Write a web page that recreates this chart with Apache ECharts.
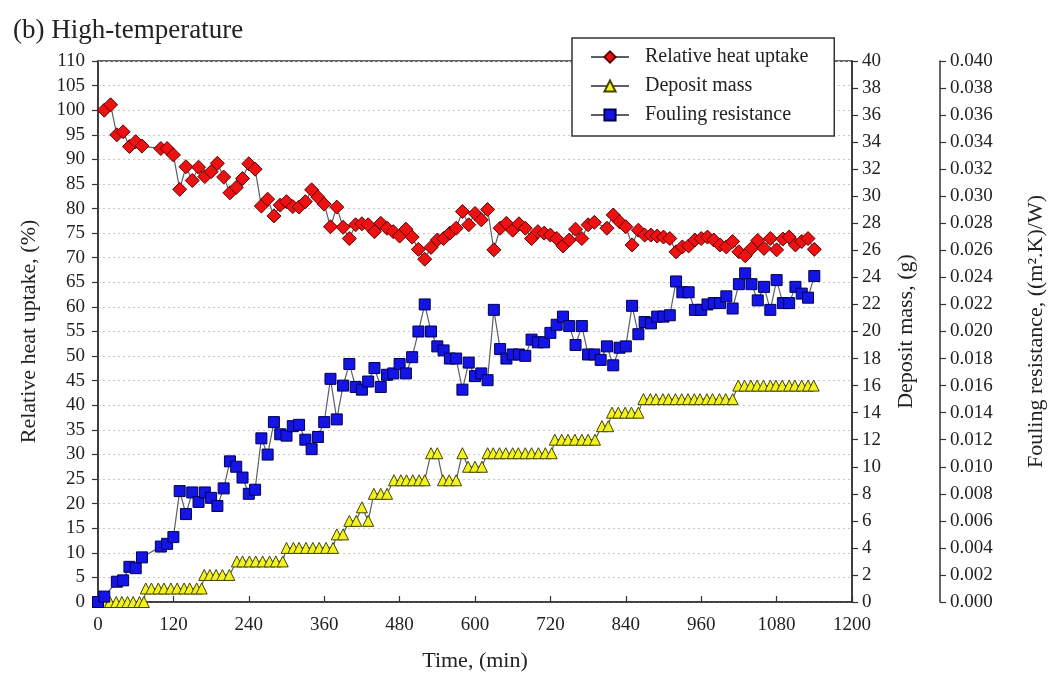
<!DOCTYPE html>
<html>
<head>
<meta charset="utf-8">
<title>(b) High-temperature</title>
<script src="https://cdn.jsdelivr.net/npm/echarts@6/dist/echarts.min.js"></script>
<style>
  html, body { margin: 0; padding: 0; background: #ffffff; }
  #chart { width: 1049px; height: 674px; }
</style>
</head>
<body>
<div id="chart"></div>
<script>
// Relative heat uptake (%) against time (min)
const heatTime = [10, 20, 30, 40, 50, 60, 70, 100, 110, 120, 130, 140, 150, 160, 170, 180, 190, 200, 210, 220,
  230, 240, 250, 260, 270, 280, 290, 300, 310, 320, 330, 340, 350, 360, 370, 380, 390, 400, 410, 420,
  430, 440, 450, 460, 470, 480, 490, 500, 510, 520, 530, 540, 550, 560, 570, 580, 590, 600, 610, 620,
  630, 640, 650, 660, 670, 680, 690, 700, 710, 720, 730, 740, 750, 760, 770, 780, 790, 810, 820, 830,
  840, 850, 860, 870, 880, 890, 900, 910, 920, 930, 940, 950, 960, 970, 980, 990, 1000, 1010, 1020, 1030,
  1040, 1050, 1060, 1070, 1080, 1090, 1100, 1110, 1120, 1130, 1140];
const heatUptake = [100.0, 101.1, 95.0, 95.6, 92.6, 93.6, 92.7, 92.2, 92.2, 90.9, 83.9, 88.5, 85.7, 88.4, 86.5, 87.5, 89.2, 86.4, 83.2, 84.3,
  86.1, 89.1, 88.0, 80.5, 81.9, 78.5, 80.7, 81.4, 80.4, 80.3, 81.4, 83.8, 82.3, 80.9, 76.3, 80.3, 76.2, 73.9, 76.7, 76.9,
  76.7, 75.3, 77.0, 76.0, 75.3, 74.4, 75.8, 74.2, 71.7, 69.7, 72.1, 73.6, 73.9, 75.0, 76.0, 79.4, 76.7, 79.0, 77.7, 79.8,
  71.6, 76.0, 77.0, 75.6, 76.9, 76.0, 73.9, 75.3, 75.0, 74.6, 73.9, 72.4, 73.6, 75.8, 73.9, 76.7, 77.2, 76.0, 78.7, 77.3,
  76.3, 72.6, 75.6, 74.6, 74.6, 74.4, 74.2, 73.9, 71.2, 72.2, 72.4, 73.6, 73.9, 74.2, 73.6, 72.6, 72.2, 73.3, 71.2, 70.4,
  71.9, 73.5, 71.9, 73.9, 71.6, 73.8, 74.2, 72.6, 73.3, 73.9, 71.7];

// Deposit mass (g) against time (min)
const massTime = [0, 10, 19, 29, 38, 47, 56, 66, 73,
  76, 85, 96, 105, 116, 126, 137, 146, 157, 165,
  169, 178, 188, 198, 209,
  221, 230, 241, 251, 262, 273, 283, 294,
  300, 311, 320, 331, 342, 352, 363, 374,
  380, 390, 400, 411, 420, 430, 439, 450, 460,
  471, 482, 491, 501, 511, 520, 530, 540, 549, 559, 570, 580, 589, 600, 611,
  620, 629, 639, 649, 660, 669, 680, 690, 701, 712, 722,
  727, 738, 748, 759, 770, 780, 791, 802, 812,
  818, 828, 839, 849, 860,
  868, 879, 888, 899, 908, 919, 929, 939, 949, 958, 969, 978, 989, 999, 1010,
  1019, 1029, 1039, 1049, 1059, 1070, 1079, 1089, 1100, 1109, 1120, 1130, 1139];
const depositMass = [0, 0, 0, 0, 0, 0, 0, 0, 0,
  1, 1, 1, 1, 1, 1, 1, 1, 1, 1,
  2, 2, 2, 2, 2,
  3, 3, 3, 3, 3, 3, 3, 3,
  4, 4, 4, 4, 4, 4, 4, 4,
  5, 5, 6, 6, 7, 6, 8, 8, 8,
  9, 9, 9, 9, 9, 9, 11, 11, 9, 9, 9, 11, 10, 10, 10,
  11, 11, 11, 11, 11, 11, 11, 11, 11, 11, 11,
  12, 12, 12, 12, 12, 12, 12, 13, 13,
  14, 14, 14, 14, 14,
  15, 15, 15, 15, 15, 15, 15, 15, 15, 15, 15, 15, 15, 15, 15,
  16, 16, 16, 16, 16, 16, 16, 16, 16, 16, 16, 16, 16];

// Fouling resistance ((m2.K)/W) against time (min)
const foulTime = [0, 10, 30, 40, 50, 60, 70, 100, 110, 120, 130, 140, 150, 160, 170, 180, 190, 200, 210, 220,
  230, 240, 250, 260, 270, 280, 290, 300, 310, 320, 330, 340, 350, 360, 370, 380, 390, 400, 410, 420,
  430, 440, 450, 460, 470, 480, 490, 500, 510, 520, 530, 540, 550, 560, 570, 580, 590, 600, 610, 620,
  630, 640, 650, 660, 670, 680, 690, 700, 710, 720, 730, 740, 750, 760, 770, 780, 790, 800, 810, 820,
  830, 840, 850, 860, 870, 880, 890, 900, 910, 920, 930, 940, 950, 960, 970, 980, 990, 1000, 1010, 1020,
  1030, 1040, 1050, 1060, 1070, 1080, 1090, 1100, 1110, 1120, 1130, 1140];
const foulingResistance = [0.0000, 0.0004, 0.0015, 0.0016, 0.0026, 0.0025, 0.0033, 0.0041, 0.0043, 0.0048, 0.0082, 0.0065, 0.0081, 0.0074, 0.0081, 0.0077, 0.0071, 0.0084, 0.0104, 0.0100,
  0.0092, 0.0080, 0.0083, 0.0121, 0.0109, 0.0133, 0.0124, 0.0123, 0.0130, 0.0131, 0.0120, 0.0113, 0.0122, 0.0133, 0.0165, 0.0135, 0.0160, 0.0176, 0.0159, 0.0157,
  0.0163, 0.0173, 0.0159, 0.0168, 0.0169, 0.0176, 0.0169, 0.0181, 0.0200, 0.0220, 0.0200, 0.0189, 0.0186, 0.0180, 0.0180, 0.0157, 0.0177, 0.0167, 0.0169, 0.0164,
  0.0216, 0.0187, 0.0180, 0.0183, 0.0183, 0.0182, 0.0194, 0.0192, 0.0192, 0.0199, 0.0205, 0.0211, 0.0204, 0.0190, 0.0204, 0.0183, 0.0183, 0.0179, 0.0189, 0.0175,
  0.0188, 0.0189, 0.0219, 0.0198, 0.0207, 0.0206, 0.0211, 0.0211, 0.0212, 0.0237, 0.0229, 0.0229, 0.0216, 0.0216, 0.0220, 0.0221, 0.0221, 0.0226, 0.0217, 0.0235,
  0.0243, 0.0235, 0.0223, 0.0233, 0.0216, 0.0238, 0.0221, 0.0221, 0.0233, 0.0228, 0.0225, 0.0241];

const seriesNames = ['Relative heat uptake', 'Deposit mass', 'Fouling resistance'];
const axisNames = ['Time, (min)', 'Relative heat uptake, (%)', 'Deposit mass, (g)', 'Fouling resistance, ((m\u00B2.K)/W)'];
const titleText = '(b) High-temperature';

const pairs = (xs, ys) => xs.map((x, i) => [x, ys[i]]);

const serif = 'Liberation Serif, Times New Roman, serif';
const ink = '#222';
const axisInk = '#333';
const tickFont = 19;
const nameFont = 22;

const chart = echarts.init(document.getElementById('chart'), null, { renderer: 'canvas' });

const baseValueAxis = {
  type: 'value',
  axisLine: { show: true, onZero: false, lineStyle: { color: axisInk, width: 1.5 } },
  axisTick: { show: true, inside: false, length: 6, lineStyle: { color: axisInk, width: 1.2 } },
  axisLabel: { color: ink, fontFamily: serif, fontSize: tickFont },
  nameTextStyle: { color: ink, fontFamily: serif, fontSize: nameFont },
  splitLine: { show: false }
};

chart.setOption({
  backgroundColor: '#ffffff',
  animation: false,
  title: {
    text: titleText,
    left: 8,
    top: 12,
    textStyle: { color: ink, fontFamily: serif, fontSize: 27, fontWeight: 'normal' }
  },
  grid: {
    left: 98, right: 197, top: 61, bottom: 72,
    containLabel: false,
    outerBoundsMode: 'none',
    show: true, borderColor: axisInk, borderWidth: 1.5, backgroundColor: 'transparent'
  },
  legend: {
    data: seriesNames,
    orient: 'vertical',
    left: 572,
    top: 38,
    padding: [9, 26, 11, 18],
    itemGap: 9,
    itemWidth: 38,
    itemHeight: 14,
    backgroundColor: '#ffffff',
    borderColor: axisInk,
    borderWidth: 1.5,
    borderRadius: 0,
    textStyle: { color: ink, fontFamily: serif, fontSize: 20, padding: [0, 0, 0, 11] }
  },
  xAxis: Object.assign({}, baseValueAxis, {
    min: 0, max: 1200, interval: 120,
    name: axisNames[0],
    nameLocation: 'middle',
    nameGap: 48,
    axisTick: { show: true, inside: true, length: 6, lineStyle: { color: axisInk, width: 1.2 } },
    axisLabel: { color: ink, fontFamily: serif, fontSize: tickFont, margin: 14,
      formatter: v => String(v) }
  }),
  yAxis: [
    Object.assign({}, baseValueAxis, {
      position: 'left',
      min: 0, max: 110, interval: 5,
      name: axisNames[1],
      nameLocation: 'middle',
      nameGap: 58,
      nameRotate: 90,
      axisLabel: { color: ink, fontFamily: serif, fontSize: tickFont, margin: 13 },
      splitLine: { show: true, lineStyle: { color: '#c8c8c8', type: [2, 3], width: 1.2 } }
    }),
    Object.assign({}, baseValueAxis, {
      position: 'right',
      min: 0, max: 40, interval: 2,
      name: axisNames[2],
      nameLocation: 'middle',
      nameGap: 43,
      nameRotate: 90,
      axisLabel: { color: ink, fontFamily: serif, fontSize: tickFont, margin: 10 }
    }),
    Object.assign({}, baseValueAxis, {
      position: 'right',
      offset: 88,
      min: 0, max: 0.040, interval: 0.002,
      name: axisNames[3],
      nameLocation: 'middle',
      nameGap: 85,
      nameRotate: 90,
      axisLabel: { color: ink, fontFamily: serif, fontSize: tickFont, margin: 10,
        formatter: v => v.toFixed(3) }
    })
  ],
  series: [
    {
      name: seriesNames[0],
      type: 'line',
      yAxisIndex: 0,
      data: pairs(heatTime, heatUptake),
      symbol: 'diamond',
      symbolSize: 14,
      lineStyle: { color: '#5a6068', width: 1.2 },
      itemStyle: { color: '#ee1111', borderColor: '#5a0000', borderWidth: 1 },
      z: 3
    },
    {
      name: seriesNames[1],
      type: 'line',
      yAxisIndex: 1,
      data: pairs(massTime, depositMass),
      symbol: 'triangle',
      symbolSize: [11, 11],
      lineStyle: { color: '#5a6068', width: 1.2 },
      itemStyle: { color: '#f2f21e', borderColor: '#444400', borderWidth: 1 },
      z: 4
    },
    {
      name: seriesNames[2],
      type: 'line',
      yAxisIndex: 2,
      data: pairs(foulTime, foulingResistance),
      symbol: 'rect',
      symbolSize: 11,
      lineStyle: { color: '#5a6068', width: 1.2 },
      itemStyle: { color: '#1414e6', borderColor: '#000050', borderWidth: 1 },
      z: 5
    }
  ]
});
</script>
</body>
</html>
